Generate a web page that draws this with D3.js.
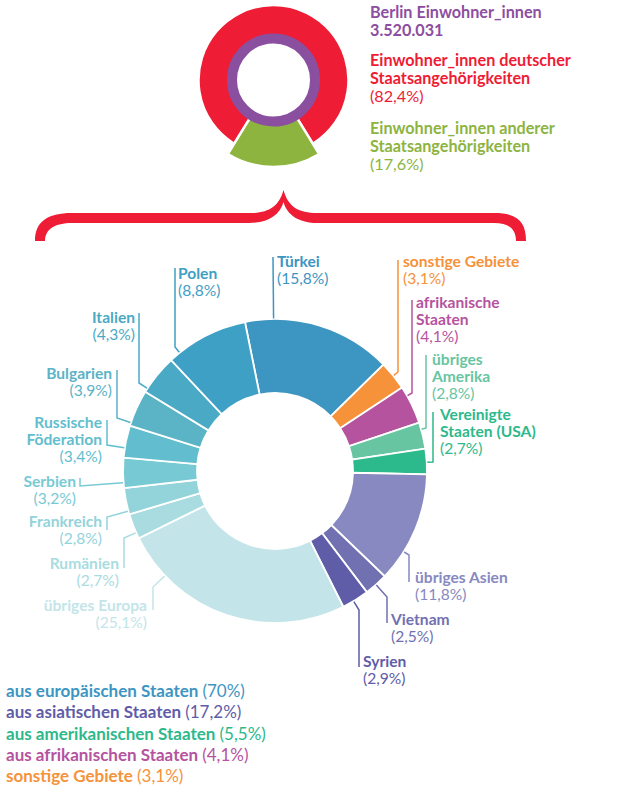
<!DOCTYPE html>
<html>
<head>
<meta charset="utf-8">
<style>
  body { margin: 0; background: #fff; }
  svg text { font-family: Lato, "Open Sans", sans-serif; }
</style>
</head>
<body>
<div id="chart"></div>
<script src="https://d3js.org/d3.v7.min.js"></script>
<script>
// top ring: all residents
const totalTitle = "Berlin Einwohner_innen";
const totalValue = "3.520.031";
const groupNames = [["Einwohner_innen deutscher", "Staatsangehörigkeiten"], ["Einwohner_innen anderer", "Staatsangehörigkeiten"]];
const groupShares = [82.4, 17.6];
const groupColors = ["#ee1c34", "#8cb43f"];

// big ring: residents with other citizenship, clockwise from top
const countries = [["Türkei"], ["sonstige Gebiete"], ["afrikanische", "Staaten"], ["übriges", "Amerika"],
  ["Vereinigte", "Staaten (USA)"], ["übriges Asien"], ["Vietnam"], ["Syrien"], ["übriges Europa"],
  ["Rumänien"], ["Frankreich"], ["Serbien"], ["Russische", "Föderation"], ["Bulgarien"], ["Italien"], ["Polen"]];
const countryShares = [15.8, 3.1, 4.1, 2.8, 2.7, 11.8, 2.5, 2.9, 25.1, 2.7, 2.8, 3.2, 3.4, 3.9, 4.3, 8.8];
const countryColors = ["#3d95c2", "#f5923a", "#b5539f", "#67c5a1", "#2cb98b", "#8789c0", "#7170b1", "#5f5ca8",
  "#c3e5e9", "#a9dce1", "#93d3da", "#77cad4", "#62bece", "#5bb3c6", "#4aaac6", "#3fa0c5"];

// bottom legend
const regions = ["aus europäischen Staaten", "aus asiatischen Staaten", "aus amerikanischen Staaten", "aus afrikanischen Staaten", "sonstige Gebiete"];
const regionShares = [70, 17.2, 5.5, 4.1, 3.1];
const regionColors = ["#3d95c2", "#5f5ca8", "#2cb98b", "#b5539f", "#f5923a"];

// label placement for the big ring: text x, anchor, first baseline, leader polyline
const labelLayout = [
  { x: 277, anchor: "start", y: 267, line: [[273, 257]] },
  { x: 403, anchor: "start", y: 267, line: [[398, 260], [398, 372]] },
  { x: 416, anchor: "start", y: 308, line: [[412, 300], [412, 393]] },
  { x: 432, anchor: "start", y: 365, line: [[426, 355], [426, 428]] },
  { x: 440, anchor: "start", y: 420, line: [[433, 412], [433, 462]] },
  { x: 415, anchor: "start", y: 583, line: [[409, 582], [409, 555]] },
  { x: 391, anchor: "start", y: 625, line: [[387, 623], [387, 597]] },
  { x: 363, anchor: "start", y: 667, line: [[359, 667], [359, 610]] },
  { x: 147, anchor: "end", y: 611, line: [[153, 610], [153, 587]] },
  { x: 119, anchor: "end", y: 569, line: [[124, 568], [124, 538]] },
  { x: 102, anchor: "end", y: 527, line: [[107, 530], [107, 517]] },
  { x: 76, anchor: "end", y: 487, line: [[80, 478], [80, 486]] },
  { x: 102, anchor: "end", y: 428, line: [[107, 420], [107, 445]] },
  { x: 112, anchor: "end", y: 379, line: [[117, 370], [117, 418]] },
  { x: 135, anchor: "end", y: 323, line: [[139, 313], [139, 383]] },
  { x: 178, anchor: "start", y: 279, line: [[175, 268], [175, 347]] }
];

const pct = v => String(v).replace(".", ",") + "%";
const deg = d => d * Math.PI / 180;

const width = 618, height = 792;
const svg = d3.select("#chart").append("svg")
  .attr("width", width).attr("height", height);

// stacked text lines: bold names, then the percentage in regular weight
function block(g, x, y, lines, pctText, step) {
  lines.forEach((l, j) => {
    g.append("text").attr("x", x).attr("y", y + j * step).attr("font-weight", 700).text(l);
  });
  g.append("text").attr("x", x).attr("y", y + lines.length * step).attr("font-weight", 400).text(pctText);
}

// ---------- top ring ----------
const topRing = svg.append("g").attr("transform", "translate(273.5,80)");
const greenHalf = Math.PI * groupShares[1] / 100;
const topPie = d3.pie().sort(null)
  .startAngle(Math.PI + greenHalf).endAngle(3 * Math.PI + greenHalf);
const topArc = d3.arc()
  .innerRadius(44)
  .outerRadius((d, i) => i === 1 ? 87 : 75);

topRing.selectAll("path.grp")
  .data(topPie(groupShares))
  .join("path")
  .attr("class", "grp")
  .attr("d", (d, i) => topArc(d, i))
  .attr("fill", (d, i) => groupColors[i])
  .attr("stroke", "#fff")
  .attr("stroke-width", 2.5);

topRing.append("circle").attr("r", 41.5)
  .attr("fill", "none").attr("stroke", "#8b4fa0").attr("stroke-width", 10);

const tx = 370;
const head = svg.append("g").attr("font-size", 16.2).attr("fill", "#8d4e9f").attr("font-weight", 700);
head.append("text").attr("x", tx).attr("y", 18).text(totalTitle);
head.append("text").attr("x", tx).attr("y", 36).text(totalValue);

const groupY = [66, 134];
groupNames.forEach((lines, i) => {
  const g = svg.append("g").attr("font-size", 16.2).attr("fill", groupColors[i]);
  block(g, tx, groupY[i], lines, "(" + pct(groupShares[i]) + ")", 17.8);
});

// ---------- brace ----------
svg.append("path")
  .attr("d", "M35,241 C35,222 47,213 72,213 L250,213 C268,213 279,207 283.5,190 " +
             "C288,207 299,213 317,213 L494,213 C518,213 526,222 526,241 L516,241 " +
             "C516,229 509,223 494,223 L318,223 C299,223 287,215 283.5,202 " +
             "C280,215 268,223 249,223 L72,223 C55,223 45,229 45,241 Z")
  .attr("fill", "#ee1c34");

// ---------- big ring ----------
const cx = 275, cy = 471, rIn = 78, rOut = 152;
const start = deg(-11.4);
const pie = d3.pie().sort(null).startAngle(start).endAngle(start + 2 * Math.PI);
const arc = d3.arc().innerRadius(rIn).outerRadius(rOut);

const ring = svg.append("g").attr("transform", `translate(${cx},${cy})`);
ring.selectAll("path")
  .data(pie(countryShares))
  .join("path")
  .attr("d", arc)
  .attr("fill", (d, i) => countryColors[i])
  .attr("stroke", "#fff")
  .attr("stroke-width", 1.8);

// leader lines: last point lands on the ring's outer edge toward the elbow
labelLayout.forEach((lay, i) => {
  const elbow = lay.line[lay.line.length - 1];
  const a = Math.atan2(elbow[0] - cx, -(elbow[1] - cy));
  const edge = [cx + (rOut + 0.5) * Math.sin(a), cy - (rOut + 0.5) * Math.cos(a)];
  svg.append("path")
    .attr("d", d3.line()(lay.line.concat([edge])))
    .attr("fill", "none")
    .attr("stroke", countryColors[i])
    .attr("stroke-width", 1.5);

  const g = svg.append("g").attr("font-size", 15.6)
    .attr("fill", countryColors[i]).attr("text-anchor", lay.anchor);
  block(g, lay.x, lay.y, countries[i], "(" + pct(countryShares[i]) + ")", 17);
});

// ---------- legend ----------
const legend = svg.append("g").attr("font-size", 17);
regions.forEach((r, i) => {
  const t = legend.append("text").attr("x", 6).attr("y", 697 + i * 21.3).attr("fill", regionColors[i]);
  t.append("tspan").attr("font-weight", 700).text(r + " ");
  t.append("tspan").attr("font-weight", 400).text("(" + pct(regionShares[i]) + ")");
});
</script>
</body>
</html>
